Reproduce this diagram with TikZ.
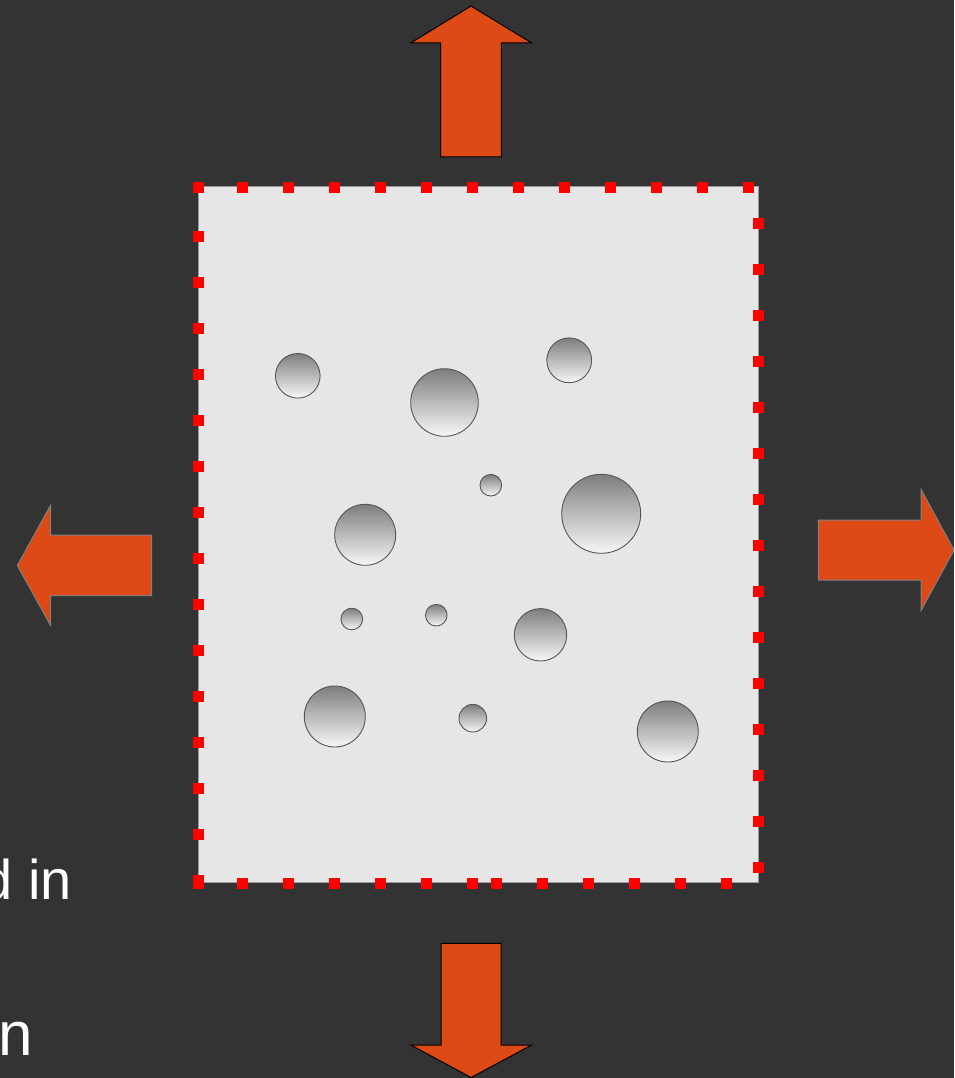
\documentclass[tikz,border=0pt]{standalone}
\usepackage{fontspec}
\setmainfont{Liberation Sans}
\definecolor{bg}{HTML}{333333}
\definecolor{sheet}{HTML}{E6E6E6}
\definecolor{sheetedge}{HTML}{9A9A9A}
\definecolor{arroworange}{HTML}{DD4A16}
\definecolor{dotred}{HTML}{FF0000}
\definecolor{bubbletop}{HTML}{7E7E7E}
\definecolor{bubblebot}{HTML}{F7F7F7}
\definecolor{bubbleedge}{HTML}{555555}
\begin{document}
\begin{tikzpicture}[x=1pt,y=-1pt,
  arrowdark/.style={fill=arroworange,draw=black,line width=1pt,line join=miter},
  arrowgray/.style={fill=arroworange,draw=gray,line width=1pt,line join=miter},
  bubble/.style={top color=bubbletop,bottom color=bubblebot},
  bubbleline/.style={draw=bubbleedge,line width=0.9pt},
  sq/.style={fill=dotred},
  label/.style={text=white,inner sep=0pt,anchor=base east}]
\useasboundingbox (0,0) rectangle (954,1078);
\clip (0,0) rectangle (954,1078);
\fill[bg] (0,0) rectangle (954,1078);
% sheet
\filldraw[fill=sheet,draw=sheetedge,line width=1pt] (198.5,187) rectangle (758,882.5);
% bubbles
\foreach \cx/\cy/\r in {297.8/375.8/22.3, 444.5/402.5/33.8, 569.2/360.3/22.4,
  490.8/485.2/10.8, 601.2/513.8/39.5, 365.2/534.8/30.5,
  351.8/619/10.8, 436.3/615.2/10.8, 540.5/634.8/26.2,
  334.8/716.5/30.5, 472.8/718.2/13.8, 667.8/731.5/30.5}{
  \shade[bubble] (\cx,\cy) circle[radius=\r];
  \draw[bubbleline] (\cx,\cy) circle[radius=\r];
}
% dotted red border
\def\hs{5.5}
\foreach \x in {198,242,288,334,380,426,472,518,564,610,656,702,748}
  \fill[sq] (\x-\hs,187.5-\hs) rectangle (\x+\hs,187.5+\hs);
\foreach \k in {0,...,14}
  \fill[sq] (758-\hs,223.5+46*\k-\hs) rectangle (758+\hs,223.5+46*\k+\hs);
\foreach \k in {0,...,14}
  \fill[sq] (198.5-\hs,236+46*\k-\hs) rectangle (198.5+\hs,236+46*\k+\hs);
\foreach \x in {198,242,288,334,380,426,472,496.5,542.5,588.5,634.5,680.5,726.5}
  \fill[sq] (\x-\hs,883-\hs) rectangle (\x+\hs,883+\hs);
% arrows
\filldraw[arrowdark] (471,6) -- (531.7,43) -- (501.3,43) -- (501.3,157) -- (440.7,157) -- (440.7,43) -- (410.7,43) -- cycle;
\filldraw[arrowdark] (441,943.3) -- (501,943.3) -- (501,1045) -- (531.7,1045) -- (471,1077.5) -- (410.7,1045) -- (441,1045) -- cycle;
\filldraw[arrowgray] (17.3,565.5) -- (50.7,505) -- (50.7,535) -- (151.7,535) -- (151.7,595.7) -- (50.7,595.7) -- (50.7,625.7) -- cycle;
\filldraw[arrowgray] (818.3,520) -- (921,520) -- (921,489.3) -- (954,550) -- (921,610.7) -- (921,580) -- (818.3,580) -- cycle;
% text
\node[label,font=\fontsize{56}{60}\selectfont] (t1) at (72,899) {d in};
\node[label,font=\fontsize{62}{66}\selectfont] (t2) at (33.5,1055) {n};
\end{tikzpicture}
\end{document}
